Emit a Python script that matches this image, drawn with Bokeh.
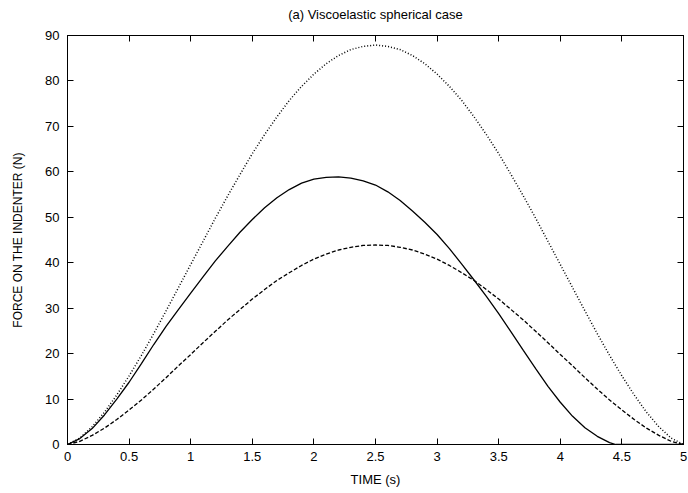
from bokeh.plotting import figure
from bokeh.models import LinearAxis, FixedTicker, CustomJSTickFormatter, Range1d
from bokeh.embed import file_html
from bokeh.resources import INLINE

# ---- data ----
t_sym = [0.0, 0.1, 0.2, 0.3, 0.4, 0.5, 0.6, 0.7, 0.8, 0.9, 1.0,
         1.1, 1.2, 1.3, 1.4, 1.5, 1.6, 1.7, 1.8, 1.9, 2.0,
         2.1, 2.2, 2.3, 2.4, 2.5, 2.6, 2.7, 2.8, 2.9, 3.0,
         3.1, 3.2, 3.3, 3.4, 3.5, 3.6, 3.7, 3.8, 3.9, 4.0,
         4.1, 4.2, 4.3, 4.4, 4.5, 4.6, 4.7, 4.8, 4.9, 5.0]
force_dotted = [0.0, 1.4, 3.9, 7.1, 10.9, 15.1, 19.6, 24.4, 29.4, 34.5, 39.6,
                44.7, 49.8, 54.7, 59.4, 64.0, 68.2, 72.1, 75.7, 78.8, 81.5,
                83.8, 85.6, 86.9, 87.6, 87.9, 87.6, 86.9, 85.6, 83.8, 81.5,
                78.8, 75.7, 72.1, 68.2, 64.0, 59.4, 54.7, 49.8, 44.7, 39.6,
                34.5, 29.4, 24.4, 19.6, 15.1, 10.9, 7.1, 3.9, 1.4, 0.0]
force_dashed = [0.0, 0.7, 2.0, 3.6, 5.5, 7.6, 9.8, 12.2, 14.7, 17.3, 19.8,
                22.4, 24.9, 27.4, 29.7, 32.0, 34.1, 36.1, 37.8, 39.4, 40.8,
                41.9, 42.8, 43.4, 43.8, 43.9, 43.8, 43.4, 42.8, 41.9, 40.8,
                39.4, 37.8, 36.1, 34.1, 32.0, 29.7, 27.4, 24.9, 22.4, 19.8,
                17.3, 14.7, 12.2, 9.8, 7.6, 5.5, 3.6, 2.0, 0.7, 0.0]
t_solid = [0.0, 0.1, 0.2, 0.3, 0.4, 0.5, 0.6, 0.7, 0.8, 0.9, 1.0,
           1.1, 1.2, 1.3, 1.4, 1.5, 1.6, 1.7, 1.8, 1.9, 2.0,
           2.1, 2.2, 2.3, 2.4, 2.5, 2.6, 2.7, 2.8, 2.9, 3.0,
           3.1, 3.2, 3.3, 3.4, 3.5, 3.6, 3.7, 3.8, 3.9, 4.0,
           4.1, 4.2, 4.3, 4.4, 4.45, 5.0]
force_solid = [0.0, 1.3, 3.5, 6.5, 10.0, 13.7, 17.8, 22.0, 26.0, 29.7, 33.3,
               36.9, 40.4, 43.6, 46.7, 49.5, 52.1, 54.3, 56.1, 57.5, 58.4,
               58.8, 58.9, 58.6, 58.0, 57.1, 55.6, 53.7, 51.4, 48.9, 46.2,
               43.1, 39.7, 36.2, 32.6, 28.8, 24.8, 20.7, 16.7, 12.8, 9.3,
               6.2, 3.7, 1.8, 0.4, 0.0, 0.0]

x_ticks = [0, 0.5, 1, 1.5, 2, 2.5, 3, 3.5, 4, 4.5, 5]
y_ticks = [0, 10, 20, 30, 40, 50, 60, 70, 80, 90]

title_text = "(a) Viscoelastic spherical case"
x_label = "TIME (s)"
y_label = "FORCE ON THE INDENTER (N)"

FONT = "Liberation Sans"

p = figure(width=688, height=493, output_backend="svg", toolbar_location=None,
           x_range=Range1d(0, 5), y_range=Range1d(0, 90),
           min_border_left=67, min_border_right=5, min_border_top=35,
           min_border_bottom=49)

p.background_fill_color = "white"
p.border_fill_color = "white"
p.outline_line_color = "black"
p.outline_line_width = 1
p.xgrid.visible = False
p.ygrid.visible = False

fmt_js = CustomJSTickFormatter(code="return String(tick);")


def style_axis(ax, ticks, labels=True):
    ax.ticker = FixedTicker(ticks=ticks)
    ax.major_tick_in = 6
    ax.major_tick_out = 0
    ax.minor_tick_in = 0
    ax.minor_tick_out = 0
    ax.axis_line_color = "black"
    ax.axis_line_width = 1
    ax.major_tick_line_color = "black"
    ax.major_tick_line_width = 1
    ax.axis_label_text_font = FONT
    ax.axis_label_text_font_size = "13px"
    ax.axis_label_text_font_style = "normal"
    ax.axis_label_text_color = "black"
    if labels:
        ax.formatter = fmt_js
        ax.major_label_text_font = FONT
        ax.major_label_text_font_size = "13px"
        ax.major_label_text_color = "black"
    else:
        ax.formatter = CustomJSTickFormatter(code="return '';")
        ax.major_label_text_font_size = "0px"
        ax.major_label_standoff = 0


xa = p.xaxis[0]
style_axis(xa, x_ticks)
xa.axis_label = x_label
xa.major_label_standoff = 7
xa.axis_label_standoff = 8

ya = p.yaxis[0]
style_axis(ya, y_ticks)
ya.axis_label = y_label
ya.axis_label_text_font_size = "12px"
ya.major_label_standoff = 8
ya.axis_label_standoff = 17

# top mirror axis carries the chart title, centred over the plot frame
top_ax = LinearAxis()
style_axis(top_ax, x_ticks, labels=False)
top_ax.axis_label = title_text
top_ax.axis_label_standoff = 14
p.add_layout(top_ax, "above")

right_ax = LinearAxis()
style_axis(right_ax, y_ticks, labels=False)
p.add_layout(right_ax, "right")

p.line(t_solid, force_solid, line_color="black", line_width=1.3)
p.line(t_sym, force_dashed, line_color="black", line_width=1.3, line_dash="4 2")
p.line(t_sym, force_dotted, line_color="black", line_width=1.5, line_dash="1 2")

open("out.html", "w").write(file_html(p, INLINE))
